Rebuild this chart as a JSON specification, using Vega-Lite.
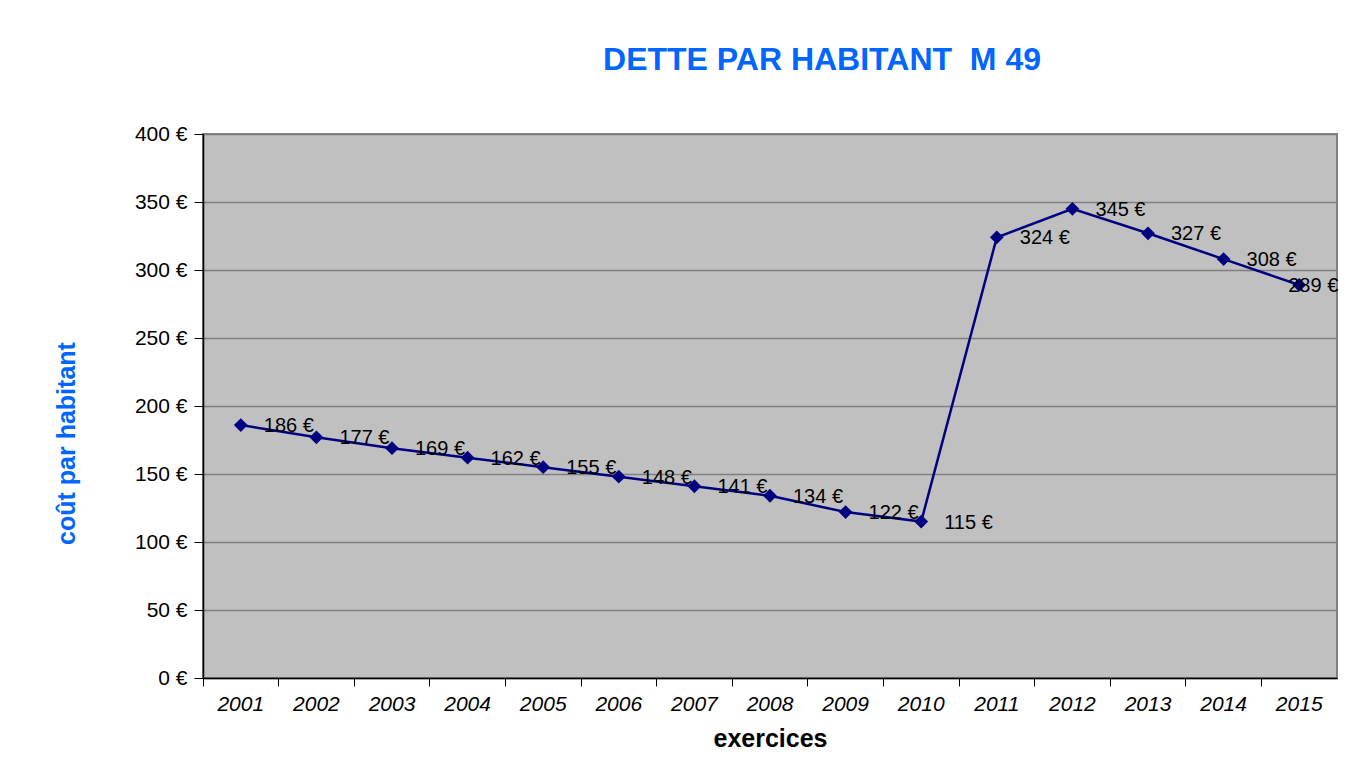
{
  "$schema": "https://vega.github.io/schema/vega-lite/v6.json",
  "width": 1134,
  "height": 544,
  "autosize": {"type": "none"},
  "padding": {"left": 203, "top": 134, "right": 18, "bottom": 86},
  "background": "white",
  "title": {
    "text": "DETTE PAR HABITANT \u00a0M 49",
    "anchor": "middle",
    "frame": "group",
    "dx": 52,
    "offset": 21,
    "baseline": "alphabetic",
    "font": "Liberation Sans",
    "fontSize": 32,
    "fontWeight": "bold",
    "color": "#0066FF"
  },
  "data": {
    "values": [
      {"annee": "2001", "dette": 186},
      {"annee": "2002", "dette": 177},
      {"annee": "2003", "dette": 169},
      {"annee": "2004", "dette": 162},
      {"annee": "2005", "dette": 155},
      {"annee": "2006", "dette": 148},
      {"annee": "2007", "dette": 141},
      {"annee": "2008", "dette": 134},
      {"annee": "2009", "dette": 122},
      {"annee": "2010", "dette": 115},
      {"annee": "2011", "dette": 324},
      {"annee": "2012", "dette": 345},
      {"annee": "2013", "dette": 327},
      {"annee": "2014", "dette": 308},
      {"annee": "2015", "dette": 289}
    ]
  },
  "encoding": {
    "x": {
      "field": "annee",
      "type": "ordinal",
      "scale": {"type": "band", "paddingInner": 0, "paddingOuter": 0},
      "axis": {
        "bandPosition": 0,
        "labelAngle": 0,
        "labelFont": "Liberation Sans",
        "labelFontSize": 21,
        "labelFontStyle": "italic",
        "labelColor": "black",
        "labelPadding": 7,
        "tickSize": 8,
        "tickColor": "black",
        "domainColor": "black",
        "domainWidth": 1.5,
        "grid": false,
        "title": "exercices",
        "titleFont": "Liberation Sans",
        "titleFontSize": 25,
        "titleFontWeight": "bold",
        "titleColor": "black",
        "titleY": 68,
        "titleBaseline": "alphabetic"
      }
    },
    "y": {
      "field": "dette",
      "type": "quantitative",
      "scale": {"domain": [0, 400], "nice": false},
      "axis": {
        "values": [0, 50, 100, 150, 200, 250, 300, 350, 400],
        "format": "$d",
        "labelFont": "Liberation Sans",
        "labelFontSize": 21,
        "labelColor": "black",
        "labelPadding": 7,
        "tickSize": 9,
        "tickColor": "black",
        "domainColor": "black",
        "domainWidth": 1.5,
        "grid": true,
        "gridColor": "#7F7F7F",
        "gridWidth": 1.5,
        "title": "coût par habitant",
        "titleFont": "Liberation Sans",
        "titleFontSize": 25,
        "titleFontWeight": "bold",
        "titleColor": "#0066FF",
        "titleX": -137,
        "titleY": 309,
        "titleBaseline": "middle"
      }
    }
  },
  "layer": [
    {"mark": {"type": "line", "color": "#000080", "strokeWidth": 2.5}},
    {"mark": {"type": "point", "shape": "diamond", "filled": true, "color": "#000080", "size": 190, "opacity": 1}},
    {
      "transform": [{"filter": "datum.annee != '2015'"}],
      "mark": {"type": "text", "align": "left", "baseline": "middle", "dx": 23, "dy": 1, "font": "Liberation Sans", "fontSize": 20, "color": "black"},
      "encoding": {"text": {"field": "dette", "type": "quantitative", "format": "$d"}}
    },
    {
      "transform": [{"filter": "datum.annee == '2015'"}],
      "mark": {"type": "text", "align": "left", "baseline": "middle", "dx": -11, "dy": 1, "font": "Liberation Sans", "fontSize": 20, "color": "black"},
      "encoding": {"text": {"field": "dette", "type": "quantitative", "format": "$d"}}
    }
  ],
  "config": {
    "locale": {
      "number": {"decimal": ",", "thousands": " ", "grouping": [3], "currency": ["", " €"]}
    },
    "view": {"fill": "#C0C0C0", "stroke": "#808080", "strokeWidth": 2}
  }
}
